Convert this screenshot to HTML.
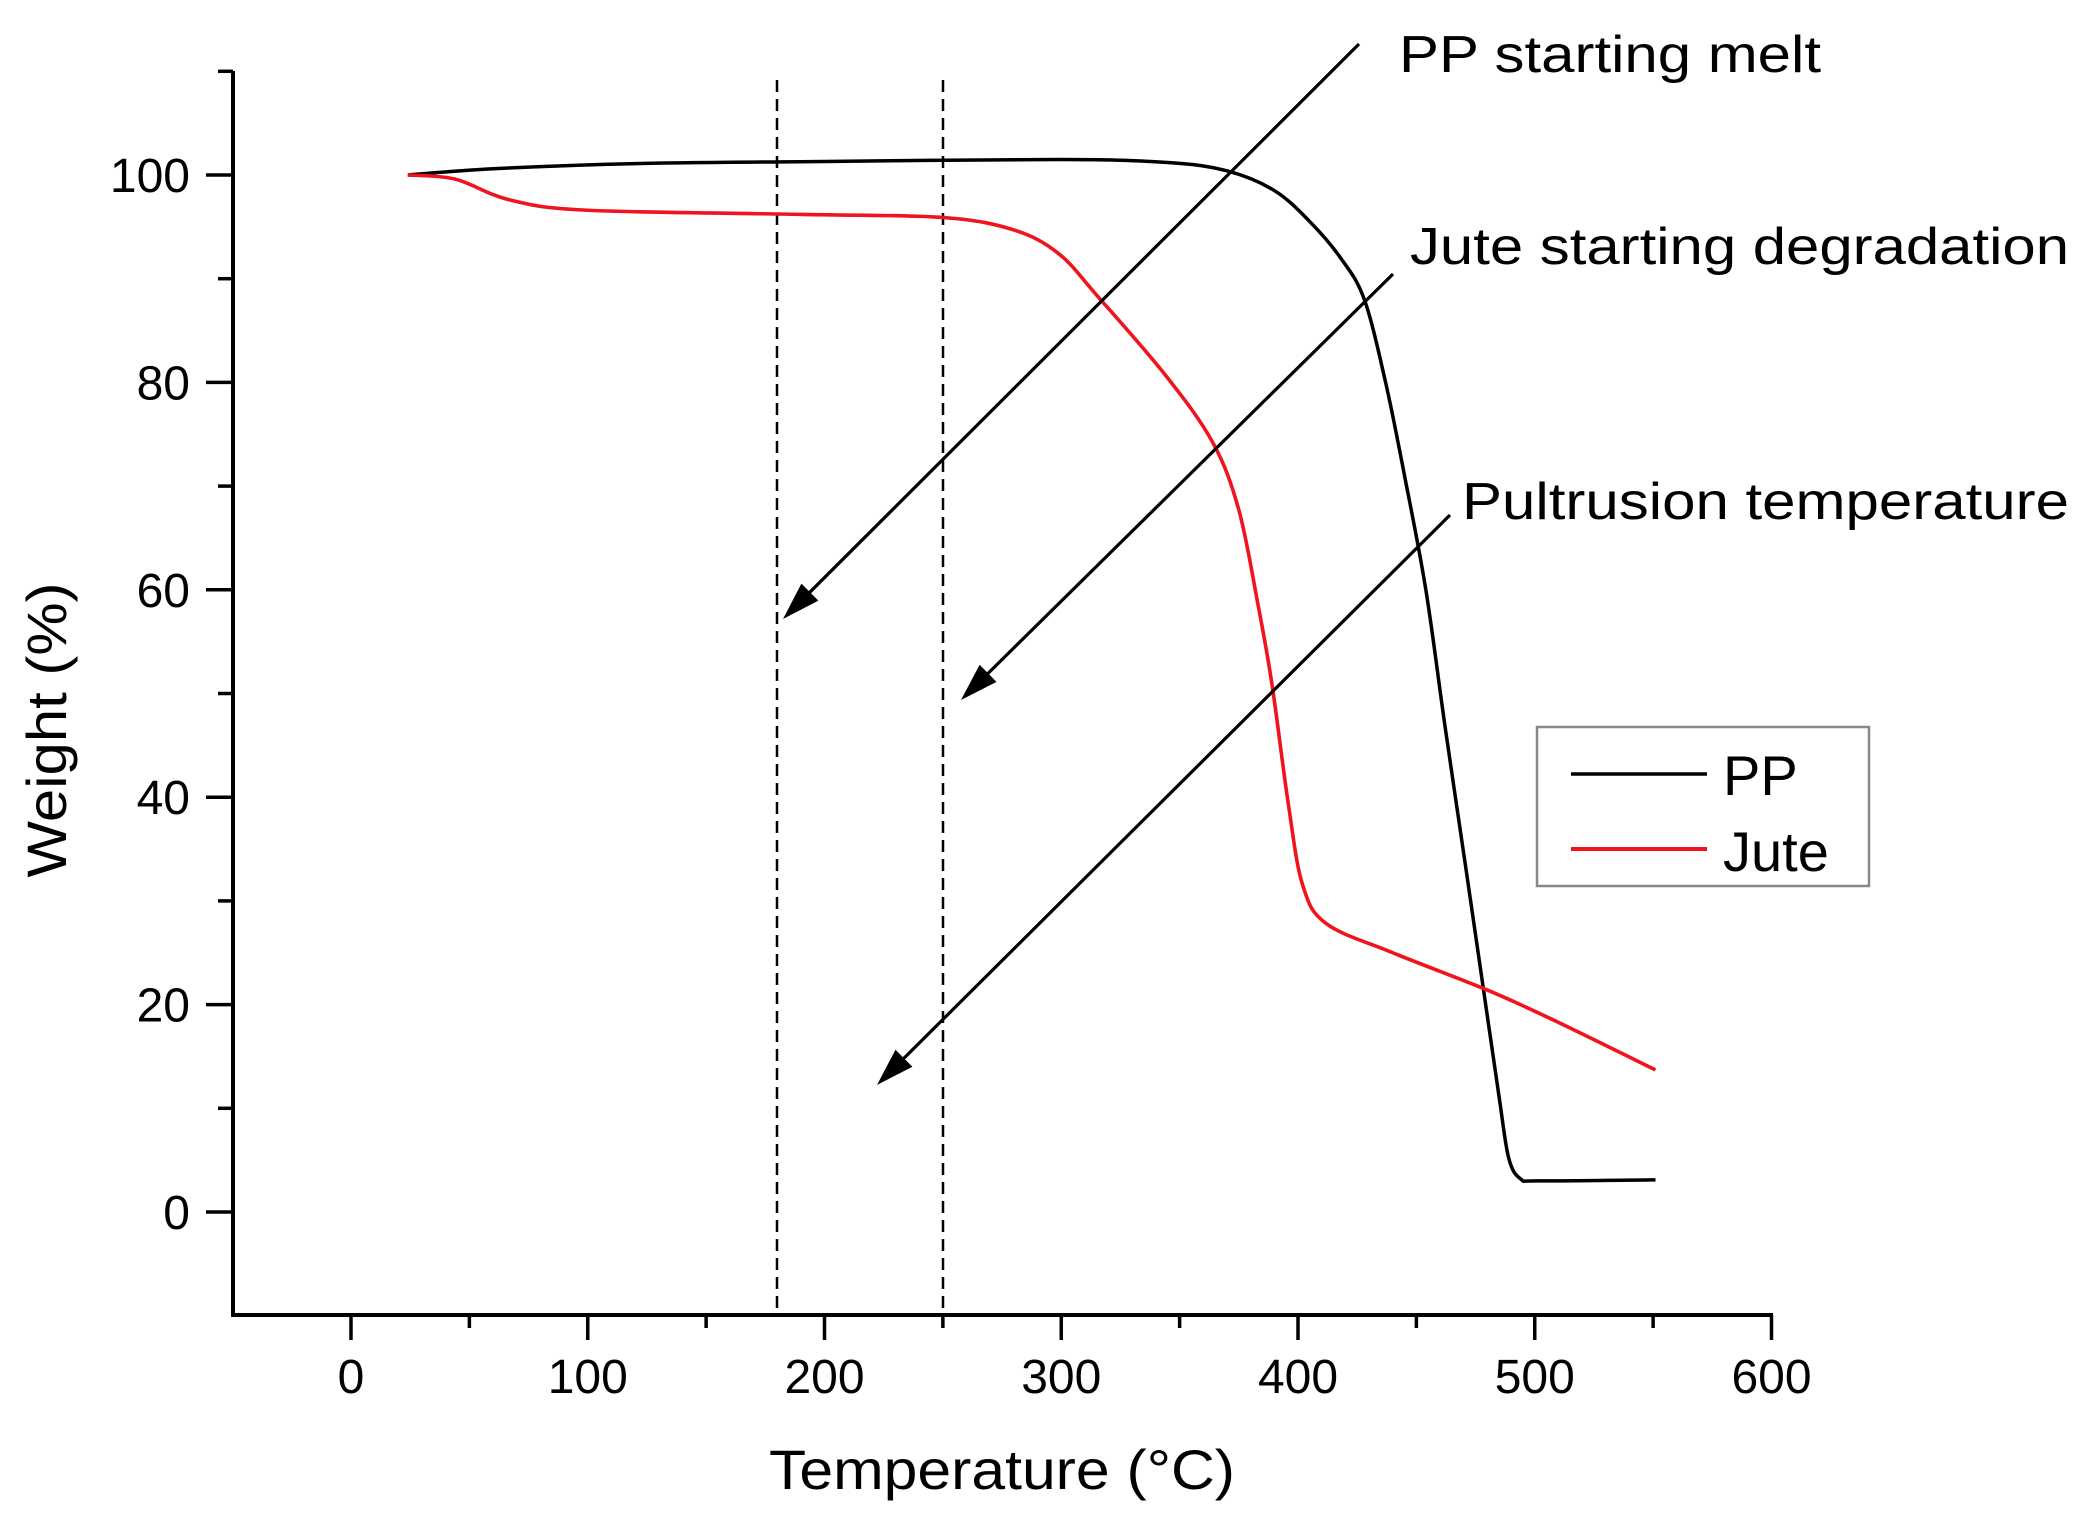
<!DOCTYPE html>
<html><head><meta charset="utf-8"><style>
html,body{margin:0;padding:0;background:#fff;}
svg{display:block;}
text{font-family:"Liberation Sans",Arial,sans-serif;fill:#000;}
</style></head><body>
<svg id="s" width="2100" height="1520" viewBox="0 0 2100 1520" xmlns="http://www.w3.org/2000/svg">
<rect width="2100" height="1520" fill="#fff"/>
<g id="ax" stroke="#000" stroke-width="4" fill="none">
<line x1="233" y1="71" x2="233" y2="1317"/>
<line x1="231" y1="1315" x2="1773" y2="1315"/>
</g>
<g id="ticks" stroke="#000" stroke-width="3.5"></g>
<g id="labels" font-size="48"></g>
<g stroke="#000" stroke-width="2.5" stroke-dasharray="12,7">
<line x1="777" y1="80" x2="777" y2="1315"/>
<line x1="943" y1="80" x2="943" y2="1315"/>
</g>
<path id="pp" fill="none" stroke="#000" stroke-width="3.5" stroke-linejoin="round"/>
<path id="ju" fill="none" stroke="#f0141e" stroke-width="3.6" stroke-linejoin="round"/>
<g id="arrows" stroke="#000" stroke-width="3.2" fill="#000"></g>
<text x="1399" y="72" font-size="52" textLength="422" lengthAdjust="spacingAndGlyphs">PP starting melt</text>
<text x="1410" y="264" font-size="52" textLength="659" lengthAdjust="spacingAndGlyphs">Jute starting degradation</text>
<text x="1462" y="519" font-size="52" textLength="607" lengthAdjust="spacingAndGlyphs">Pultrusion temperature</text>
<text x="1002" y="1489" font-size="56" text-anchor="middle" textLength="466" lengthAdjust="spacingAndGlyphs">Temperature (°C)</text>
<text transform="translate(66,730) rotate(-90)" font-size="56" text-anchor="middle" textLength="295" lengthAdjust="spacingAndGlyphs">Weight (%)</text>
<rect x="1537" y="727" width="332" height="159" fill="#fff" stroke="#888" stroke-width="2.5"/>
<line x1="1571" y1="774" x2="1707" y2="774" stroke="#000" stroke-width="3.5"/>
<line x1="1571" y1="849" x2="1707" y2="849" stroke="#f0141e" stroke-width="4"/>
<text x="1723" y="795" font-size="56">PP</text>
<text x="1723" y="871" font-size="56">Jute</text>
</svg>
<script>
var NS="http://www.w3.org/2000/svg";
function X(v){return 351+v*2.3675;}
function Y(v){return 1212-v*10.37;}
function el(p,t,a,txt){var e=document.createElementNS(NS,t);for(var k in a)e.setAttribute(k,a[k]);if(txt!==undefined)e.textContent=txt;p.appendChild(e);return e;}
var tk=document.getElementById('ticks'),lb=document.getElementById('labels');
for(var v=-50;v<=600;v+=50){var x=X(v);var maj=(v%100===0);if(v===-50)continue;
el(tk,'line',{x1:x,y1:1315,x2:x,y2:1315+(maj?25:13)});
if(maj)el(lb,'text',{x:x,y:1393,'text-anchor':'middle'},String(v));}
for(var v=-10;v<=110;v+=10){var y=Y(v);var maj=(v%20===0);if(v===-10)continue;
el(tk,'line',{x1:233,y1:y,x2:233-(maj?27:15),y2:y});
if(maj)el(lb,'text',{x:190,y:y+17,'text-anchor':'end'},String(v));}
function smooth(pts){var P=pts.map(function(p){return[X(p[0]),Y(p[1])]});var d="M"+P[0][0]+","+P[0][1];
for(var i=0;i<P.length-1;i++){var p0=P[i-1]||P[i],p1=P[i],p2=P[i+1],p3=P[i+2]||p2;
var c1=[p1[0]+(p2[0]-p0[0])/6,p1[1]+(p2[1]-p0[1])/6],c2=[p2[0]-(p3[0]-p1[0])/6,p2[1]-(p3[1]-p1[1])/6];
d+="C"+c1[0]+","+c1[1]+" "+c2[0]+","+c2[1]+" "+p2[0]+","+p2[1];}return d;}
document.getElementById('pp').setAttribute('d',smooth([[24,100],[60,100.6],[120,101.1],[200,101.3],[300,101.5],[345,101.2],[370,100.4],[390,98.5],[405,95.5],[418,92],[428,88],[437,80],[445,71],[454,60],[462,47],[471,33],[478,22],[485,11],[489,5.2],[494,3.2],[502,3],[551,3.1]]));
document.getElementById('ju').setAttribute('d',smooth([[24,100],[44,99.6],[67,97.6],[100,96.6],[191,96.2],[250,95.9],[280,94.7],[299,92.4],[315,88.4],[344,80.7],[364,74.2],[375,67.7],[383,58.7],[389,50.9],[396,39.2],[402,31.5],[412,27.8],[440,25],[480,21.4],[508,18.5],[551,13.7]]));
var ar=document.getElementById('arrows');
function arrow(x1,y1,x2,y2){var dx=x2-x1,dy=y2-y1,L=Math.sqrt(dx*dx+dy*dy),ux=dx/L,uy=dy/L,h=38,w=12;
var bx=x2-ux*h,by=y2-uy*h;el(ar,'line',{x1:x1,y1:y1,x2:bx+ux*5,y2:by+uy*5});
el(ar,'polygon',{points:x2+","+y2+" "+(bx-uy*w)+","+(by+ux*w)+" "+(bx+uy*w)+","+(by-ux*w),stroke:'none'});}
arrow(1359,44,783,619);
arrow(1393,274,961,700);
arrow(1450,515,877,1085);
</script>
</body></html>
